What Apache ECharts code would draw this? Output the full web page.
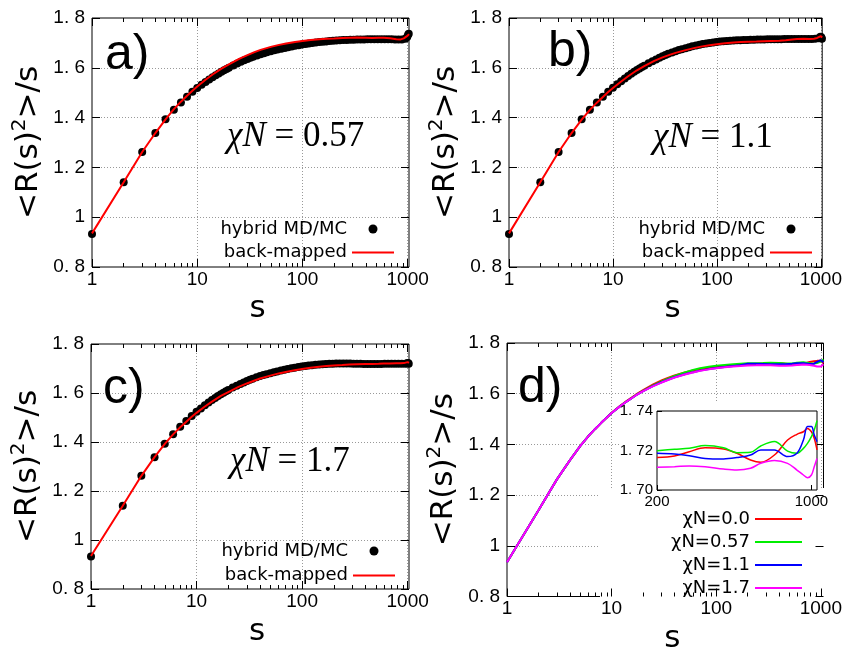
<!DOCTYPE html>
<html><head><meta charset="utf-8">
<script src="https://cdn.jsdelivr.net/npm/echarts@6/dist/echarts.min.js"></script>
<style>html,body{margin:0;padding:0;background:#fff}#c{width:845px;height:655px}</style>
</head><body><div id="c"></div>
<script>
// ---------------- data ----------------
const xTickVals = [1, 10, 100, 1000];
const xTickLabels = ['1', '10', '100', '1000'];
const xMinorVals = [2,3,4,5,6,7,8,9,20,30,40,50,60,70,80,90,200,300,400,500,600,700,800,900];
const yTickVals = [0.8, 1.0, 1.2, 1.4, 1.6, 1.8];
const yTickLabels = ['0. 8', '1', '1. 2', '1. 4', '1. 6', '1. 8'];
const insetXVals = [200, 1000];
const insetXLabels = ['200', '1000'];
const insetYVals = [1.70, 1.72, 1.74];
const insetYLabels = ['1. 70', '1. 72', '1. 74'];

const sDense = [1,2,3,4,5,6,7,8,9,10,11,12,13,14,15,16,17,18,19,20,
  22,24,26,28,30,32,34,37,40,43,46,50,54,58,63,68,73,79,85,92,99,
  107,115,124,134,145,156,168,181,195,210,227,245,264,285,307,331,357,385,
  415,447,482,520,561,605,652,703,758,817,881,950,990,1010,1024];
const sLine = [1,2,3,4,5,6,7,8,9,10,12,14,17,20,25,30,35,40,50,60,70,85,100,120,145,170,
  200,240,280,330,400,460,530,590,680,780,860,920,960,1000,1030];

const mcA = [0.933,1.140,1.262,1.338,1.393,1.432,1.461,1.484,1.504,1.519,1.532,1.543,1.553,1.562,1.570,1.577,1.584,1.590,1.595,1.600,
  1.609,1.617,1.624,1.630,1.635,1.640,1.644,1.649,1.654,1.658,1.662,1.666,1.670,1.673,1.677,1.680,1.683,1.686,1.689,1.691,1.694,
  1.696,1.698,1.700,1.702,1.704,1.705,1.706,1.708,1.709,1.710,1.711,1.712,1.712,1.713,1.713,1.714,1.714,1.714,
  1.715,1.715,1.715,1.715,1.715,1.715,1.715,1.715,1.714,1.714,1.714,1.717,1.724,1.733,1.737];
const bmA = [0.935,1.140,1.262,1.338,1.393,1.434,1.464,1.488,1.508,1.525,1.552,1.573,1.597,1.614,1.636,1.651,1.663,1.672,
  1.684,1.692,1.698,1.704,1.708,1.712,1.715,1.717,1.718,1.720,1.721,1.722,1.721,1.720,1.721,1.721,
  1.719,1.715,1.714,1.718,1.723,1.729,1.735];

const mcB = [0.933,1.140,1.262,1.338,1.393,1.432,1.461,1.484,1.504,1.520,1.534,1.546,1.557,1.567,1.576,1.584,1.591,1.597,1.603,1.608,
  1.618,1.626,1.633,1.640,1.646,1.651,1.656,1.661,1.666,1.671,1.675,1.679,1.683,1.687,1.690,1.693,1.696,1.698,1.700,1.702,1.704,
  1.706,1.707,1.708,1.709,1.710,1.711,1.711,1.712,1.712,1.713,1.713,1.714,1.714,1.714,1.715,1.715,1.715,1.715,
  1.715,1.716,1.716,1.716,1.716,1.716,1.716,1.716,1.716,1.716,1.717,1.719,1.725,1.723,1.717];
const bmB = [0.935,1.140,1.262,1.338,1.392,1.431,1.460,1.483,1.503,1.519,1.545,1.566,1.590,1.607,1.628,1.642,1.652,1.660,
  1.671,1.679,1.685,1.691,1.695,1.699,1.702,1.704,1.705,1.706,1.707,1.708,1.709,1.711,1.714,1.716,
  1.717,1.716,1.717,1.720,1.724,1.727,1.722];

const mcC = [0.933,1.140,1.262,1.338,1.393,1.432,1.462,1.486,1.506,1.523,1.537,1.550,1.561,1.571,1.580,1.588,1.595,1.601,1.607,1.612,
  1.622,1.630,1.637,1.643,1.649,1.654,1.658,1.664,1.669,1.673,1.677,1.681,1.685,1.688,1.692,1.695,1.698,1.701,1.703,1.706,1.708,
  1.710,1.712,1.713,1.715,1.716,1.717,1.718,1.719,1.719,1.720,1.720,1.720,1.720,1.720,1.719,1.719,1.719,1.718,
  1.718,1.718,1.718,1.718,1.718,1.719,1.719,1.719,1.719,1.719,1.719,1.719,1.721,1.722,1.719];
const bmC = [0.935,1.140,1.262,1.338,1.392,1.431,1.460,1.483,1.503,1.519,1.545,1.565,1.588,1.604,1.625,1.639,1.650,1.659,
  1.671,1.680,1.686,1.693,1.698,1.703,1.707,1.710,1.712,1.714,1.716,1.717,1.718,1.718,1.719,1.720,
  1.720,1.721,1.721,1.722,1.724,1.726,1.723];

const sHead = [1,2,3,4,5,6,7,8,9,10,12,14,17,20,25,30,35,40,50,60,70,85,100,120,145,170];
const sTail = [200,240,280,330,400,460,530,590,680,780,860,920,960,1000,1030,1060];
const dRedHead = [0.935,1.140,1.262,1.338,1.393,1.433,1.462,1.486,1.506,1.525,1.551,1.572,1.596,1.614,1.637,1.652,1.663,1.672,1.684,1.692,1.697,1.702,1.706,1.709,1.712,1.714];
const dGreenHead = [0.935,1.140,1.262,1.338,1.393,1.433,1.462,1.486,1.506,1.524,1.550,1.570,1.594,1.611,1.633,1.648,1.660,1.670,1.684,1.694,1.700,1.706,1.710,1.713,1.716,1.718];
const dBlueHead = [0.935,1.140,1.262,1.338,1.393,1.433,1.462,1.486,1.506,1.524,1.550,1.570,1.593,1.610,1.631,1.645,1.656,1.665,1.677,1.685,1.691,1.697,1.701,1.705,1.709,1.712];
const dMagentaHead = [0.935,1.140,1.262,1.338,1.393,1.433,1.462,1.486,1.506,1.524,1.550,1.570,1.593,1.610,1.630,1.644,1.655,1.664,1.676,1.684,1.690,1.696,1.700,1.704,1.707,1.709];
const tailRed = [1.7164,1.7172,1.7194,1.7214,1.7208,1.7186,1.7152,1.7140,1.7177,1.7253,1.7282,1.7295,1.7312,1.7295,1.7262,1.7203];
const tailGreen = [1.7199,1.7206,1.7211,1.7225,1.7214,1.7189,1.7191,1.7223,1.7245,1.7197,1.7186,1.7211,1.7236,1.7270,1.7304,1.7351];
const tailBlue = [1.7186,1.7182,1.7174,1.7160,1.7157,1.7164,1.7177,1.7203,1.7203,1.7169,1.7186,1.7253,1.7321,1.7321,1.7278,1.7245];
const tailMagenta = [1.7115,1.7118,1.7122,1.7118,1.7106,1.7101,1.7110,1.7135,1.7149,1.7135,1.7101,1.7076,1.7062,1.7076,1.7118,1.7160];

const dNames = ['χN=0.0', 'χN=0.57', 'χN=1.1', 'χN=1.7'];
const dColors = ['#ff0000', '#00ee00', '#0000ff', '#ff00ff'];

// ---------------- chart building ----------------
const FS = 'DejaVu Sans', FL = 'Liberation Sans', FSER = 'Liberation Serif';
const TICK_FS = 19;
function fmt(vals, labels) {
  return function (v) {
    for (let i = 0; i < vals.length; i++) {
      if (Math.abs(v - vals[i]) < 1e-6 * Math.max(1, Math.abs(v))) return labels[i];
    }
    return '';
  };
}
function pairs(xs, ys) { return xs.map((x, i) => [x, ys[i]]); }

const grid = [], xAxis = [], yAxis = [], series = [];

function addPanel(p) {
  const gi = grid.length;
  grid.push({left: p.left, top: p.top, width: p.width, height: p.height, show: true,
    borderColor: '#000', borderWidth: 1, backgroundColor: 'rgba(0,0,0,0)', z: 1});
  const xi = xAxis.length;
  const xb = {gridIndex: gi, type: 'log', logBase: 10, min: 1, max: p.xmax, silent: true,
    axisLine: {show: false}, axisLabel: {show: false}, splitLine: {show: false}, axisTick: {show: false}};
  xAxis.push(Object.assign({}, xb, {position: 'bottom', z: 0,
    splitLine: {show: true, showMinLine: false, showMaxLine: false, lineStyle: {color: '#999', width: 1, type: [1, 2]}},
    axisLabel: {show: true, customValues: xTickVals, formatter: fmt(xTickVals, xTickLabels),
      fontFamily: FL, fontSize: TICK_FS, color: '#000', margin: 3},
    name: 's', nameLocation: 'middle', nameGap: p.xGap,
    nameTextStyle: {fontFamily: FS, fontSize: 31, color: '#000', lineHeight: 30, padding: [0, 0, 0, 14]}}));
  xAxis.push(Object.assign({}, xb, {position: 'bottom', z: 2,
    axisTick: {show: true, inside: true, length: 8, customValues: xTickVals, lineStyle: {color: '#000', width: 1}}}));
  xAxis.push(Object.assign({}, xb, {position: 'bottom', z: 2,
    axisTick: {show: true, inside: true, length: 4, customValues: xMinorVals, lineStyle: {color: '#000', width: 1}}}));
  xAxis.push(Object.assign({}, xb, {position: 'top', z: 2,
    axisTick: {show: true, inside: true, length: 8, customValues: xTickVals, lineStyle: {color: '#000', width: 1}}}));
  xAxis.push(Object.assign({}, xb, {position: 'top', z: 2,
    axisTick: {show: true, inside: true, length: 4, customValues: xMinorVals, lineStyle: {color: '#000', width: 1}}}));
  const yi = yAxis.length;
  const yb = {gridIndex: gi, type: 'value', min: 0.8, max: 1.8, interval: 0.2, silent: true,
    axisLine: {show: false}, axisLabel: {show: false}, splitLine: {show: false}, axisTick: {show: false}};
  yAxis.push(Object.assign({}, yb, {position: 'left', z: 0,
    splitLine: {show: true, showMinLine: false, showMaxLine: false, lineStyle: {color: '#999', width: 1, type: [1, 2]}},
    axisLabel: {show: true, formatter: fmt(yTickVals, yTickLabels), fontFamily: FL, fontSize: TICK_FS, color: '#000', margin: 7},
    name: '<R(s){sup|2}>/s', nameLocation: 'middle', nameGap: p.yGap,
    nameTextStyle: {fontFamily: FS, fontSize: 31, color: '#000', lineHeight: 40,
      rich: {sup: {fontFamily: FS, fontSize: 20, color: '#000', lineHeight: 20, verticalAlign: 'top'}}}}));
  yAxis.push(Object.assign({}, yb, {position: 'left', z: 2,
    axisTick: {show: true, inside: true, length: 8, lineStyle: {color: '#000', width: 1}}}));
  yAxis.push(Object.assign({}, yb, {position: 'right', z: 2,
    axisTick: {show: true, inside: true, length: 8, lineStyle: {color: '#000', width: 1}}}));
  return {xi: xi, yi: yi};
}

function addMCPanel(p, mc, bm) {
  const ax = addPanel(p);
  series.push({type: 'scatter', name: 'hybrid MD/MC', xAxisIndex: ax.xi, yAxisIndex: ax.yi,
    data: pairs(sDense, mc), symbol: 'circle', symbolSize: 8, itemStyle: {color: '#000', opacity: 1}, z: 2, silent: true});
  series.push({type: 'line', name: 'back-mapped', xAxisIndex: ax.xi, yAxisIndex: ax.yi,
    data: pairs(sLine, bm), symbol: 'none', showSymbol: false, lineStyle: {color: '#ff0000', width: 2},
    itemStyle: {color: '#ff0000'}, z: 3, silent: true});
}

addMCPanel({left: 92, top: 18, width: 317, height: 249, xmax: 1030, xGap: 27, yGap: 40}, mcA, bmA);
addMCPanel({left: 509, top: 18, width: 318, height: 249, xmax: 1030, xGap: 27, yGap: 36}, mcB, bmB);
addMCPanel({left: 91, top: 344, width: 318, height: 245, xmax: 1030, xGap: 28, yGap: 41}, mcC, bmC);
const axD = addPanel({left: 507, top: 343, width: 320, height: 256, xmax: 1060, xGap: 27, yGap: 35});
const heads = [dRedHead, dGreenHead, dBlueHead, dMagentaHead];
const tails = [tailRed, tailGreen, tailBlue, tailMagenta];
heads.forEach(function (h, k) {
  series.push({type: 'line', name: dNames[k], xAxisIndex: axD.xi, yAxisIndex: axD.yi,
    data: pairs(sHead.concat(sTail), h.concat(tails[k])), symbol: 'none', showSymbol: false,
    lineStyle: {color: dColors[k], width: 2}, itemStyle: {color: dColors[k]}, z: 2, silent: true});
});

const gIn = grid.length;
grid.push({left: 657, top: 411, width: 160, height: 79, show: true, backgroundColor: '#fff',
  borderColor: '#000', borderWidth: 1, z: 3});
const xIn = xAxis.length, yIn = yAxis.length;
xAxis.push({gridIndex: gIn, type: 'log', logBase: 10, min: 200, max: 1060, position: 'bottom', z: 4, silent: true,
  axisLine: {show: false}, splitLine: {show: false},
  axisTick: {show: true, inside: true, length: 5, customValues: insetXVals, lineStyle: {color: '#000'}},
  axisLabel: {show: true, customValues: insetXVals, formatter: fmt(insetXVals, insetXLabels),
    fontFamily: FL, fontSize: 15, color: '#000', margin: 4}});
yAxis.push({gridIndex: gIn, type: 'value', min: 1.70, max: 1.74, interval: 0.02, position: 'left', z: 4, silent: true,
  axisLine: {show: false}, splitLine: {show: false},
  axisTick: {show: true, inside: true, length: 5, lineStyle: {color: '#000'}},
  axisLabel: {show: true, formatter: fmt(insetYVals, insetYLabels), fontFamily: FL, fontSize: 15, color: '#000', margin: 4}});
tails.forEach(function (t, k) {
  series.push({type: 'line', name: dNames[k], xAxisIndex: xIn, yAxisIndex: yIn,
    data: pairs(sTail, t), symbol: 'none', showSymbol: false, smooth: 0.35,
    lineStyle: {color: dColors[k], width: 1.5}, itemStyle: {color: dColors[k]}, z: 5, silent: true});
});

const LINE_ICON = 'path://M0,0 L42,0 L42,2 L0,2 Z';
const legTextAB = {fontFamily: FS, fontSize: 18, color: '#000', lineHeight: 16};
const abData = [{name: 'hybrid MD/MC', icon: 'circle'}, {name: 'back-mapped', icon: LINE_ICON}];
const legend = [
  {data: abData, orient: 'vertical', align: 'right', right: 451, top: 220,
    itemWidth: 42, itemHeight: 9, itemGap: 5.5, padding: 0, selectedMode: false, textStyle: legTextAB},
  {data: abData, orient: 'vertical', align: 'right', right: 33, top: 220,
    itemWidth: 42, itemHeight: 9, itemGap: 5.5, padding: 0, selectedMode: false, textStyle: legTextAB},
  {data: abData, orient: 'vertical', align: 'right', right: 450, top: 542,
    itemWidth: 42, itemHeight: 9, itemGap: 6.5, padding: 0, selectedMode: false, textStyle: legTextAB},
  {data: dNames.map(n => ({name: n, icon: 'path://M0,0 L47,0 L47,2 L0,2 Z'})), orient: 'vertical', align: 'right', right: 43, top: 510,
    itemWidth: 47, itemHeight: 14, itemGap: 5, padding: 0, selectedMode: false, textStyle: legTextAB}
];

const chiRich = {i: {fontFamily: FSER, fontStyle: 'italic', fontSize: 35, fill: '#000'}};
function chiText(x, y, val) {
  return {type: 'text', x: x, y: y, z: 10, silent: true,
    style: {text: '{i|χN} = ' + val, fontFamily: FSER, fontSize: 35, fill: '#000', verticalAlign: 'middle', rich: chiRich}};
}
function panelLabel(x, y, t) {
  return {type: 'text', x: x, y: y, z: 10, silent: true,
    style: {text: t, fontFamily: FL, fontSize: 50, fill: '#000', verticalAlign: 'middle'}};
}
const graphic = {elements: [
  {type: 'rect', z: 1, silent: true, shape: {x: 621, y: 403, width: 196, height: 100}, style: {fill: '#fff'}},
  {type: 'rect', z: 1, silent: true, shape: {x: 600, y: 488, width: 226, height: 110}, style: {fill: '#fff'}},
  panelLabel(105, 55, 'a)'),
  panelLabel(548, 52, 'b)'),
  panelLabel(103, 389, 'c)'),
  panelLabel(518, 388, 'd)'),
  chiText(227, 137, '0.57'),
  chiText(653, 138, '1.1'),
  chiText(230, 462, '1.7')
]};

const chart = echarts.init(document.getElementById('c'), null, {renderer: 'canvas', width: 845, height: 655});
chart.setOption({animation: false, backgroundColor: '#fff', grid: grid, xAxis: xAxis, yAxis: yAxis,
  series: series, legend: legend, graphic: graphic});
</script></body></html>
